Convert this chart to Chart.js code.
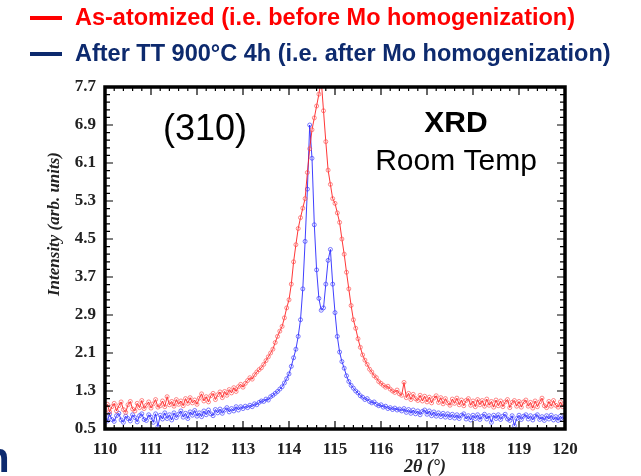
<!DOCTYPE html>
<html lang="en">
  <head>
    <meta charset="UTF-8" />
    <title>XRD (310) peak</title>
    <style>
      body {
        margin: 0;
        background: #fff;
        overflow: hidden;
      }
      .wrap {
        position: relative;
        width: 641px;
        height: 476px;
        overflow: hidden;
      }
      .legend-row {
        position: absolute;
        left: 30px;
        display: flex;
        align-items: center;
        font-family: "Liberation Sans", Arial, sans-serif;
        font-weight: bold;
        font-size: 23.5px;
        white-space: nowrap;
      }
      .legend-row .swatch {
        width: 32px;
        height: 4px;
        margin-right: 13px;
      }
      .side-letter {
        position: absolute;
        left: -16px;
        top: 434px;
        font-family: "Liberation Sans", Arial, sans-serif;
        font-weight: bold;
        font-size: 42px;
        color: #0d2a6e;
      }
    </style>
  </head>
  <body>
    <div class="wrap">
      <canvas id="xrdChart" width="641" height="476"></canvas>
      <div class="legend-row" style="top: 4px; color: #ff0000">
        <span class="swatch" style="background: #ff0000"></span>
        <span>As-atomized (i.e. before Mo homogenization)</span>
      </div>
      <div class="legend-row" style="top: 40px; color: #0d2a6e">
        <span class="swatch" style="background: #0d2a6e"></span>
        <span>After TT 900°C 4h (i.e. after Mo homogenization)</span>
      </div>
      <div class="side-letter">n</div>
    </div>

    <script src="https://cdn.jsdelivr.net/npm/chart.js"></script>
    <script>
      // 2theta sampling (deg)
      const twoTheta = [
        110.0, 110.05, 110.1, 110.15, 110.2, 110.25, 110.3, 110.35, 110.4, 110.45,
        110.5, 110.55, 110.6, 110.65, 110.7, 110.75, 110.8, 110.85, 110.9, 110.95,
        111.0, 111.05, 111.1, 111.15, 111.2, 111.25, 111.3, 111.35, 111.4, 111.45,
        111.5, 111.55, 111.6, 111.65, 111.7, 111.75, 111.8, 111.85, 111.9, 111.95,
        112.0, 112.05, 112.1, 112.15, 112.2, 112.25, 112.3, 112.35, 112.4, 112.45,
        112.5, 112.55, 112.6, 112.65, 112.7, 112.75, 112.8, 112.85, 112.9, 112.95,
        113.0, 113.05, 113.1, 113.15, 113.2, 113.25, 113.3, 113.35, 113.4, 113.45,
        113.5, 113.55, 113.6, 113.65, 113.7, 113.75, 113.8, 113.85, 113.9, 113.95,
        114.0, 114.05, 114.1, 114.15, 114.2, 114.25, 114.3, 114.35, 114.4, 114.45,
        114.5, 114.55, 114.6, 114.65, 114.7, 114.75, 114.8, 114.85, 114.9, 114.95,
        115.0, 115.05, 115.1, 115.15, 115.2, 115.25, 115.3, 115.35, 115.4, 115.45,
        115.5, 115.55, 115.6, 115.65, 115.7, 115.75, 115.8, 115.85, 115.9, 115.95,
        116.0, 116.05, 116.1, 116.15, 116.2, 116.25, 116.3, 116.35, 116.4, 116.45,
        116.5, 116.55, 116.6, 116.65, 116.7, 116.75, 116.8, 116.85, 116.9, 116.95,
        117.0, 117.05, 117.1, 117.15, 117.2, 117.25, 117.3, 117.35, 117.4, 117.45,
        117.5, 117.55, 117.6, 117.65, 117.7, 117.75, 117.8, 117.85, 117.9, 117.95,
        118.0, 118.05, 118.1, 118.15, 118.2, 118.25, 118.3, 118.35, 118.4, 118.45,
        118.5, 118.55, 118.6, 118.65, 118.7, 118.75, 118.8, 118.85, 118.9, 118.95,
        119.0, 119.05, 119.1, 119.15, 119.2, 119.25, 119.3, 119.35, 119.4, 119.45,
        119.5, 119.55, 119.6, 119.65, 119.7, 119.75, 119.8, 119.85, 119.9, 119.95,
        120.0
      ];

      // as-atomized (before Mo homogenization)
      const asAtomized = [
        0.90, 1.02, 0.86, 0.97, 1.04, 0.88, 0.99, 1.07, 0.91, 0.85,
        1.01, 1.08, 0.92, 0.88, 1.04, 0.95, 1.10, 0.93, 1.00, 1.07,
        0.94, 1.03, 1.12, 0.96, 0.99, 1.09, 0.97, 1.18, 1.01, 1.08,
        0.98, 1.12, 1.02, 1.09, 0.99, 1.14, 1.04, 1.16, 1.05, 1.11,
        1.02, 1.15, 1.24, 1.09, 1.18, 1.07, 1.20, 1.25, 1.12, 1.22,
        1.28, 1.16, 1.29, 1.21, 1.33, 1.26, 1.37, 1.29, 1.39, 1.44,
        1.38, 1.46, 1.52, 1.58, 1.55, 1.64, 1.70, 1.75, 1.79, 1.86,
        1.94, 2.02, 2.10, 2.18, 2.32, 2.45, 2.56, 2.66, 2.84, 3.05,
        3.22, 3.55, 4.02, 4.38, 4.72, 4.95, 5.15, 5.35, 5.90, 6.40,
        6.80, 7.05, 7.30, 7.55, 7.85, 7.20, 6.55, 5.95, 5.65, 5.35,
        5.25, 5.05, 4.85, 4.50, 4.18, 3.80, 3.45, 3.10, 2.80, 2.62,
        2.40, 2.22, 2.06, 1.95, 1.86, 1.76, 1.70, 1.62, 1.58, 1.50,
        1.46, 1.42, 1.38, 1.40, 1.34, 1.30, 1.27, 1.32, 1.24, 1.21,
        1.48, 1.16, 1.25, 1.12, 1.23, 1.14, 1.10, 1.21, 1.09, 1.19,
        1.07, 1.17, 1.05, 1.15, 1.20, 1.06, 1.16, 1.03, 1.14, 1.05,
        1.00, 1.13, 1.04, 1.15, 1.01, 1.11, 0.99, 1.10, 1.14, 1.00,
        1.09, 0.97, 1.12, 1.01, 1.10, 0.98, 1.13, 1.00, 1.08, 0.96,
        1.11, 0.99, 1.09, 0.97, 1.07, 1.12, 0.95, 1.06, 1.10, 0.98,
        1.08, 0.96, 1.07, 1.11, 0.98, 1.06, 0.94, 1.09, 0.97, 1.07,
        1.15, 0.99, 0.95, 1.08, 0.98, 1.10, 1.00, 0.96, 1.07, 0.97,
        1.04
      ];

      // after TT 900 C 4h (after Mo homogenization)
      const afterTT = [
        0.75, 0.67, 0.81, 0.70, 0.66, 0.78, 0.83, 0.69, 0.64, 0.77,
        0.72, 0.67, 0.80, 0.74, 0.65, 0.78, 0.82, 0.70, 0.68, 0.80,
        0.75, 0.64, 0.82, 0.55, 0.79, 0.71, 0.84, 0.72, 0.80, 0.69,
        0.84, 0.74, 0.81, 0.88, 0.75, 0.83, 0.72, 0.86, 0.79, 0.89,
        0.77, 0.84, 0.76, 0.88, 0.80, 0.90, 0.82, 0.78, 0.91, 0.84,
        0.92, 0.83, 0.90, 0.95, 0.86, 0.93, 0.88, 0.97, 0.90, 0.97,
        0.93, 0.98, 0.95, 1.00, 0.97, 1.03, 1.01, 1.06, 1.09, 1.08,
        1.13, 1.11, 1.18, 1.21, 1.25, 1.29, 1.34, 1.39, 1.47, 1.56,
        1.66, 1.82, 2.00, 2.18, 2.45, 2.80, 3.45, 4.45, 5.55, 6.90,
        6.20, 4.80, 3.85, 3.25, 3.00, 3.05, 3.55, 4.05, 4.28, 3.55,
        2.95, 2.45, 2.12, 1.92, 1.78, 1.62, 1.50, 1.42, 1.36, 1.30,
        1.26, 1.20, 1.17, 1.12, 1.14, 1.08, 1.05, 1.07, 1.02, 0.99,
        1.01, 0.96, 0.98, 0.93, 0.95, 0.91, 0.94, 0.90, 0.92, 0.88,
        0.93, 0.85, 0.91, 0.83, 0.90, 0.82, 0.88, 0.80, 0.87, 0.90,
        0.81, 0.88, 0.78, 0.86, 0.77, 0.84, 0.76, 0.83, 0.75, 0.82,
        0.74, 0.81, 0.73, 0.80, 0.72, 0.79, 0.82, 0.71, 0.78, 0.69,
        0.79, 0.72, 0.80, 0.70, 0.77, 0.81, 0.71, 0.78, 0.64, 0.79,
        0.72, 0.80, 0.70, 0.77, 0.81, 0.71, 0.68, 0.78, 0.57, 0.72,
        0.79, 0.70, 0.77, 0.80, 0.71, 0.78, 0.69, 0.77, 0.80, 0.70,
        0.76, 0.68, 0.78, 0.71, 0.79, 0.69, 0.76, 0.68, 0.77, 0.70,
        0.75
      ];

      const xTickLabels = [110, 111, 112, 113, 114, 115, 116, 117, 118, 119, 120];
      const yTickLabels = [0.5, 1.3, 2.1, 2.9, 3.7, 4.5, 5.3, 6.1, 6.9, 7.7];

      function toPoints(ys) {
        return twoTheta.map((x, i) => ({ x: x, y: ys[i] }));
      }

      // frame, inner ticks and text labels
      const framePlugin = {
        id: "frame",
        afterDraw(chart) {
          const { ctx, chartArea: a, scales } = chart;
          const xs = scales.x;
          const ys = scales.y;
          ctx.save();
          ctx.strokeStyle = "#000";

          ctx.lineWidth = 1.2;
          ctx.beginPath();
          for (let k = 0; k <= 50; k++) {
            const px = xs.getPixelForValue(110 + k * 0.2);
            const len = k % 5 === 0 ? 8 : 4;
            ctx.moveTo(px, a.bottom);
            ctx.lineTo(px, a.bottom - len);
            ctx.moveTo(px, a.top);
            ctx.lineTo(px, a.top + len);
          }
          for (let k = 0; k <= 45; k++) {
            const py = ys.getPixelForValue(0.5 + k * 0.16);
            const len = k % 5 === 0 ? 8 : 5;
            ctx.moveTo(a.left, py);
            ctx.lineTo(a.left + len, py);
            ctx.moveTo(a.right, py);
            ctx.lineTo(a.right - len, py);
          }
          ctx.stroke();

          ctx.lineWidth = 3.5;
          ctx.strokeRect(a.left, a.top, a.right - a.left, a.bottom - a.top);

          ctx.fillStyle = "#000";
          ctx.textAlign = "center";
          ctx.textBaseline = "middle";
          ctx.font = "36px 'Liberation Sans', Arial, sans-serif";
          ctx.fillText("(310)", 205, 130);
          ctx.font = "bold 30px 'Liberation Sans', Arial, sans-serif";
          ctx.fillText("XRD", 456, 124);
          ctx.font = "30px 'Liberation Sans', Arial, sans-serif";
          ctx.fillText("Room Temp", 456, 162);

          ctx.fillStyle = "#222";
          ctx.font = "italic bold 18px 'Liberation Serif', 'Times New Roman', serif";
          ctx.fillText("2\u03b8 (\u00b0)", 425, 467);

          ctx.font = "italic bold 17px 'Liberation Serif', 'Times New Roman', serif";
          ctx.translate(55, 224);
          ctx.rotate(-Math.PI / 2);
          ctx.fillText("Intensity (arb. units)", 0, 0);
          ctx.restore();
        },
      };

      const ctx = document.getElementById("xrdChart").getContext("2d");
      new Chart(ctx, {
        type: "line",
        data: {
          datasets: [
            {
              label: "As-atomized (i.e. before Mo homogenization)",
              data: toPoints(asAtomized),
              borderColor: "rgba(255, 20, 20, 0.85)",
              borderWidth: 1,
              pointRadius: 2,
              pointBorderWidth: 0.8,
              pointBorderColor: "rgba(255, 80, 80, 0.85)",
              pointBackgroundColor: "rgba(255, 255, 255, 0)",
              tension: 0,
            },
            {
              label: "After TT 900°C 4h (i.e. after Mo homogenization)",
              data: toPoints(afterTT),
              borderColor: "rgba(30, 30, 255, 0.85)",
              borderWidth: 1,
              pointRadius: 2,
              pointBorderWidth: 0.8,
              pointBorderColor: "rgba(60, 60, 255, 0.85)",
              pointBackgroundColor: "rgba(255, 255, 255, 0)",
              tension: 0,
            },
          ],
        },
        options: {
          responsive: false,
          animation: false,
          layout: {
            padding: { top: 87, right: 76, left: 0, bottom: 0 },
          },
          plugins: {
            legend: { display: false },
            tooltip: { enabled: false },
          },
          scales: {
            x: {
              type: "linear",
              min: 110,
              max: 120,
              afterBuildTicks: (axis) => {
                axis.ticks = xTickLabels.map((v) => ({ value: v }));
              },
              afterFit: (scale) => {
                scale.height = 47;
              },
              grid: { display: false, drawTicks: false },
              border: { display: false },
              ticks: {
                padding: 10,
                color: "#222",
                maxRotation: 0,
                font: {
                  family: "'Liberation Serif', 'Times New Roman', serif",
                  size: 17,
                  weight: "bold",
                },
              },
            },
            y: {
              type: "linear",
              min: 0.5,
              max: 7.7,
              afterBuildTicks: (axis) => {
                axis.ticks = yTickLabels.map((v) => ({ value: v }));
              },
              afterFit: (scale) => {
                scale.width = 105;
              },
              grid: { display: false, drawTicks: false },
              border: { display: false },
              ticks: {
                padding: 9,
                color: "#222",
                callback: (v) => v.toFixed(1),
                font: {
                  family: "'Liberation Serif', 'Times New Roman', serif",
                  size: 17,
                  weight: "bold",
                },
              },
            },
          },
        },
        plugins: [framePlugin],
      });
    </script>
  </body>
</html>
